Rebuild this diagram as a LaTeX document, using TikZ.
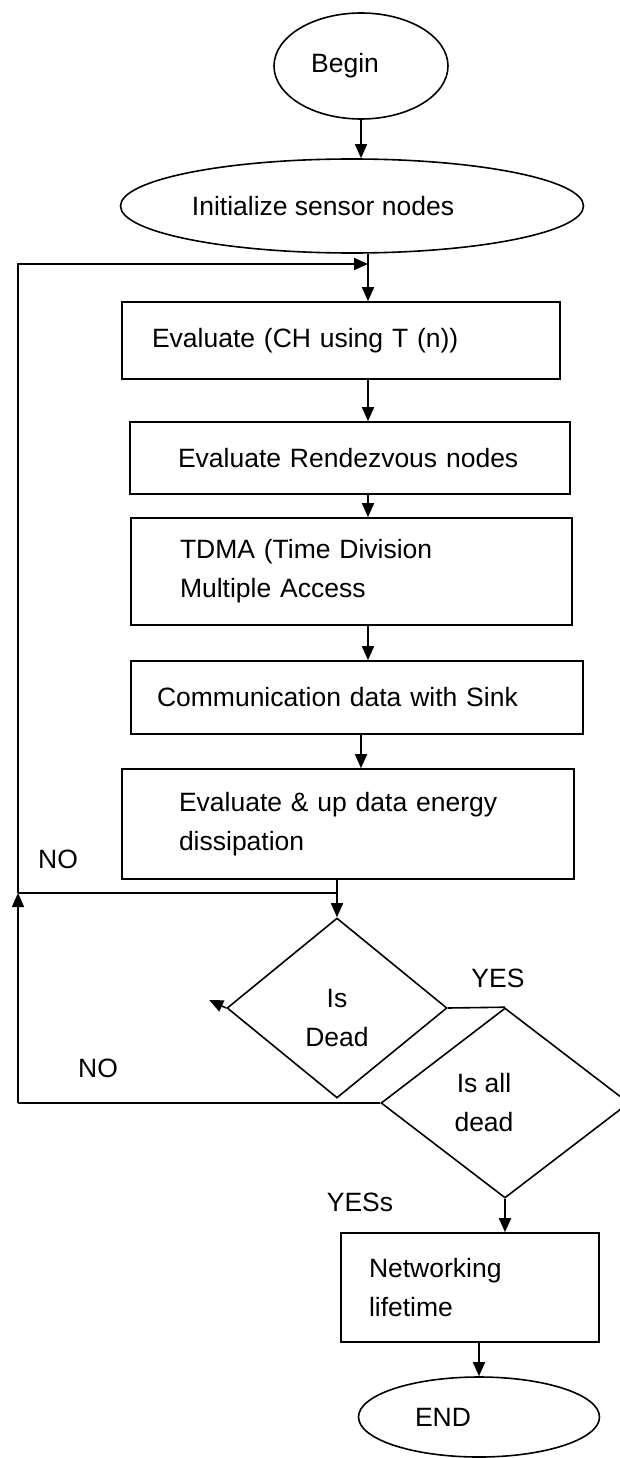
\documentclass[tikz,border=0pt]{standalone}
\usepackage{fontspec}
\setmainfont{Liberation Sans}
\usepackage{tikz}
\usetikzlibrary{arrows.meta,shapes.geometric}
\tikzset{
	termnode/.style={draw, ellipse, line width=1.6pt, inner sep=0pt},
	procbox/.style={draw, rectangle, align=left, line width=1.6pt, inner ysep=0pt},
	decide/.style={draw, diamond, align=center, line width=1.6pt, inner sep=0pt},
	flow/.style={line width=1.6pt, -{Triangle[length=14pt,width=12pt]}},
	plain/.style={line width=1.6pt},
}

\begin{document}
\begin{tikzpicture}[x=1pt, y=-1pt, font=\fontsize{26.5}{39}\selectfont]
		%%%%% START %%%%%
		\useasboundingbox (0, 0) rectangle (619, 1458);
		
		\node[termnode, minimum width=174pt, minimum height=106pt] (begin) at (361, 66) {Begin\hspace*{32pt}};
		\node[termnode, minimum width=463pt, minimum height=94pt] (init) at (352, 206) {Initialize sensor nodes\hspace*{58pt}};
		
		\node[procbox, minimum height=77pt, inner xsep=30pt, text width=378pt] (ch) at (341, 340.5) {Evaluate (CH using T (n))};
		\node[procbox, minimum height=72pt, inner xsep=48pt, text width=344pt] (rdv) at (350, 458) {Evaluate Rendezvous nodes};
		\node[procbox, minimum height=107pt, inner xsep=49pt, text width=343pt] (tdma) at (351.5, 571.5) {TDMA (Time Division\\Multiple Access};
		\node[procbox, minimum height=73pt, inner xsep=26pt, text width=400pt] (sink) at (357, 697.5) {Communication data with Sink};
		\node[procbox, minimum height=110pt, inner xsep=57pt, text width=338pt] (energy) at (348, 824) {Evaluate \& up data energy\\dissipation};
		
		\node[decide, minimum width=220pt, minimum height=180pt] (dead) at (337, 1008) {\rule{0pt}{39pt}Is\\Dead};
		\node[decide, minimum width=248pt, minimum height=190pt] (alldead) at (505, 1103) {Is all\hspace*{42pt}\\dead\hspace*{42pt}};
		
		\node[procbox, minimum height=109pt, inner xsep=28pt, text width=202pt] (life) at (470, 1287.5) {Networking\\lifetime};
		\node[termnode, minimum width=241pt, minimum height=80pt] (endnode) at (479, 1417) {END\hspace*{72pt}};
		
		\node (nolabA) at (58, 859) {NO};
		\node (nolabB) at (98, 1068) {NO};
		\node (yeslab) at (498, 978) {YES};
		\node (yesslab) at (360, 1202) {YESs};
		
		\coordinate (loopin) at (368, 264);
		\coordinate (lefttop) at (18, 264);
		\coordinate (leftmid) at (18, 893);
		\coordinate (leftlow) at (18, 1103);
		\coordinate (nobend) at (337, 893);
		
		\draw[flow] (begin.south) -- (begin.south |- init.north);
		\draw[flow] (init.south -| loopin) -- (ch.north -| loopin);
		\draw[flow] (ch.south -| loopin) -- (rdv.north -| loopin);
		\draw[flow] (rdv.south -| loopin) -- (tdma.north -| loopin);
		\draw[flow] (tdma.south -| loopin) -- (sink.north -| loopin);
		\draw[flow] (sink.south -| begin.south) -- (energy.north -| begin.south);
		\draw[flow] (energy.south -| nobend) -- (dead.north);
		
		\draw[plain] (nobend) -- (leftmid);
		\draw[flow] (leftmid) -- (lefttop) -- (loopin);
		\draw[flow] (dead.west) -- ++(-17, -8);
		
		\draw[plain] (dead.east) -- (alldead.north);
		\draw[plain] (alldead.west) -- (leftlow);
		\draw[flow] (leftlow) -- (leftmid);
		
		\draw[flow] (alldead.south) -- (alldead.south |- life.north);
		\draw[flow] (life.south -| endnode.north) -- (endnode.north);
		
		%%%%% END %%%%%
\end{tikzpicture}
\end{document}
